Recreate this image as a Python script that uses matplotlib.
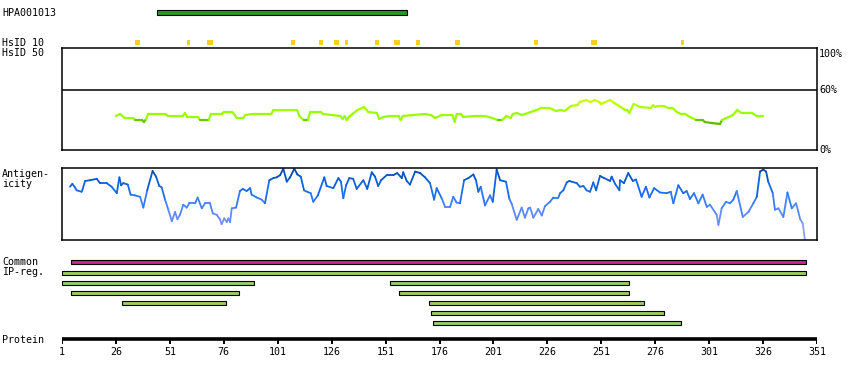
import numpy as np
import matplotlib
matplotlib.use("Agg")
import matplotlib.pyplot as plt
from matplotlib.collections import LineCollection
from matplotlib.colors import LinearSegmentedColormap, Normalize
from matplotlib.patches import Rectangle

plt.rcParams['font.family'] = 'DejaVu Sans Mono'
plt.rcParams['font.size'] = 7.2

W, H = 850, 380
protein_len = 351

# antibody antigen region
hpa_name = "HPA001013"
hpa_start, hpa_end = 45, 161

# HsID 10 hits (start residue, length)
hs10_start = [35, 59, 68, 107, 120, 127, 132, 146, 155, 165, 183, 220, 246, 288]
hs10_len = [2, 1.5, 3, 2, 2, 2.5, 1.5, 2, 2.5, 2, 2.5, 1.5, 3, 1.5]

# HsID 50 identity (%)
hs50_res = [26, 28, 30, 34, 35, 38, 39, 40, 41, 49, 50, 57, 58, 59, 64, 65, 69, 70, 75, 76,
            80, 82, 85, 86, 89, 98, 99, 110, 111, 113, 115, 116, 121, 122, 130, 131, 132, 133, 134,
            138, 141, 143, 147, 148, 150, 153, 157, 158, 159, 169, 172, 174, 177, 182, 183, 184,
            186, 187, 192, 197, 199, 203, 205, 207, 209, 210, 212, 214, 217, 221, 223, 227, 230,
            232, 234, 237, 240, 241, 244, 246, 248, 250, 251, 254, 255, 257, 260, 262, 263, 264,
            266, 269, 274, 275, 276, 277, 280, 282, 284, 286, 288, 290, 292, 295, 298, 299, 302,
            306, 307, 309, 312, 314, 316, 321, 323, 326]
hs50_pct = [34, 36, 32, 32, 30, 30, 28, 31, 36, 36, 34, 34, 37, 33, 33, 30, 30, 36, 36, 38,
            38, 32, 32, 35, 36, 36, 40, 40, 34, 30, 30, 38, 38, 36, 34, 31, 34, 30, 33,
            40, 43, 38, 37, 31, 33, 34, 34, 30, 34, 36, 35, 32, 35, 35, 28, 36,
            36, 33, 34, 34, 33, 30, 30, 34, 32, 36, 37, 35, 37, 40, 42, 42, 39,
            40, 39, 44, 45, 48, 50, 48, 50, 48, 46, 49, 50, 47, 43, 40, 40, 37,
            46, 43, 42, 45, 43, 44, 44, 42, 42, 38, 36, 36, 33, 30, 30, 28, 27,
            26, 30, 32, 35, 40, 37, 37, 34, 34]

# antigenicity profile (relative, 0-100)
ag_res = [4.7, 5.8, 7.0, 7.8, 10.1, 10.6, 11.7, 14.0, 17.1, 18.6, 21.7, 24.0, 26.4, 27.6, 28.4,
          29.4, 31.5, 32.8, 34.8, 37.2, 38.7, 40.5, 43.0, 44.6, 46.1, 47.2, 48.8, 50.3, 51.9,
          53.4, 54.5, 55.7, 57.2, 58.8, 60.0, 62.7, 63.9, 65.8, 67.3, 69.6, 70.9, 72.7, 74.2,
          75.0, 76.2, 77.4, 78.1, 78.9, 79.7, 81.7, 83.5, 84.8, 86.6, 88.2, 88.9, 91.3, 93.6,
          95.1, 97.1, 99.0, 100.5, 102.1, 103.6, 105.2, 106.7, 108.7, 110.1, 111.7, 113.2,
          114.7, 116.3, 117.5, 119.6, 122.6, 123.7, 126.8, 129.1, 130.3, 131.4, 132.7, 134.2,
          136.0, 137.6, 140.7, 142.5, 144.6, 146.1, 147.6, 148.9, 151.5, 154.6, 156.4, 158.5,
          159.2, 160.8, 162.3, 164.7, 167.0, 169.3, 171.6, 173.5, 174.7, 177.0, 178.6, 180.9,
          182.4, 183.9, 185.5, 187.4, 189.4, 191.7, 192.9, 194.0, 195.1, 197.1, 199.4, 200.7,
          202.5, 204.1, 206.8, 208.4, 209.5, 211.8, 214.1, 215.6, 217.2, 218.0, 219.5, 221.8,
          223.4, 224.9, 227.2, 228.8, 231.1, 231.9, 233.4, 235.0, 236.2, 237.3, 239.6, 241.1,
          242.7, 244.2, 245.8, 247.3, 248.6, 250.4, 252.3, 255.1, 255.8, 257.4, 259.4, 259.7,
          261.5, 263.5, 265.6, 267.1, 269.7, 271.7, 273.3, 275.5, 278.2, 281.3, 283.2, 284.4,
          286.7, 289.0, 290.6, 292.1, 294.0, 296.0, 298.0, 299.9, 301.4, 304.5, 305.3, 306.8,
          308.8, 310.7, 312.2, 313.8, 316.6, 319.2, 321.5, 323.1, 324.6, 326.1, 327.4, 328.4,
          330.5, 331.5, 333.1, 335.4, 337.3, 339.3, 341.3, 343.2, 344.4, 345.4]
ag_val = [74, 78, 73, 69, 67, 71, 82, 83, 85, 79, 79, 74, 65, 87, 76,
          79, 77, 63, 62, 60, 45, 69, 96, 88, 75, 73, 56, 42, 26,
          39, 29, 35, 49, 45, 51, 51, 59, 44, 51, 51, 37, 35, 29,
          22, 30, 25, 30, 25, 44, 45, 68, 71, 68, 72, 63, 59, 56,
          51, 83, 86, 87, 90, 99, 81, 87, 99, 91, 88, 69,
          67, 65, 53, 62, 87, 75, 72, 86, 81, 58, 76, 86,
          85, 71, 83, 71, 94, 88, 75, 83, 90, 90, 93, 86,
          94, 82, 77, 95, 93, 87, 79, 56, 72, 58, 46, 46,
          60, 52, 51, 83, 86, 91, 83, 67, 74, 48, 62, 53,
          98, 83, 81, 57, 50, 28, 45, 31, 44, 45, 31, 43,
          34, 47, 53, 59, 59, 65, 69, 80, 82, 81, 79, 74,
          75, 69, 67, 80, 69, 89, 86, 82, 88, 78, 69, 83,
          79, 93, 82, 84, 60, 74, 59, 72, 66, 65, 67, 51,
          76, 65, 68, 57, 65, 51, 63, 46, 49, 35, 21, 44,
          53, 51, 56, 68, 32, 39, 51, 60, 95, 98, 95, 81,
          65, 42, 44, 32, 66, 44, 51, 29, 23, 0]

# common and IP regions (start, end)
common_reg = (5, 346)
ipreg_rows = [
    [(1, 346)],
    [(1, 90), (153, 264)],
    [(5, 83), (157, 264)],
    [(29, 77), (171, 271)],
    [(172, 280)],
    [(173, 288)],
]
ticks = list(range(1, protein_len + 1, 25))

fig = plt.figure(figsize=(W / 100, H / 100), dpi=100)


def box(x0, y0, x1, y1):
    return [x0 / W, 1 - y1 / H, (x1 - x0) / W, (y1 - y0) / H]


# overlay axes: residues across, pixel rows down
ax = fig.add_axes(box(62, 0, 817, 380))
ax.set_xlim(1, protein_len)
ax.set_ylim(H, 0)
ax.axis('off')

ax.add_patch(Rectangle((hpa_start, 10), hpa_end - hpa_start, 5,
                       fc='#229922', ec='black', lw=0.8))
for s, l in zip(hs10_start, hs10_len):
    ax.add_patch(Rectangle((s, 40), l, 4.7, fc='#ffcc22', ec='none'))

ax.add_patch(Rectangle((common_reg[0], 260), common_reg[1] - common_reg[0], 4.3,
                       fc='#cc2299', ec='black', lw=0.8))
for i, row in enumerate(ipreg_rows):
    for s, e in row:
        ax.add_patch(Rectangle((s, 270.5 + 10 * i), e - s, 4.2,
                               fc='#99cc66', ec='black', lw=0.8))

ax.plot([1, protein_len], [339, 339], color='black', lw=2.6, solid_capstyle='butt')
ax.vlines(ticks, 339, 344, color='black', lw=1.4)
for t in ticks:
    ax.text(t, 352, str(t), ha='center', va='center')

# HsID 50 panel
ax_hs = fig.add_axes(box(62, 48, 817, 150))
ax_hs.set_xlim(1, protein_len)
ax_hs.set_ylim(0, 102)
ax_hs.set_xticks([])
ax_hs.set_yticks([])
for sp in ax_hs.spines.values():
    sp.set_linewidth(1.1)
ax_hs.axhline(60, color='black', lw=1.1)
pts = np.column_stack([hs50_res, hs50_pct])
segs = np.stack([pts[:-1], pts[1:]], axis=1)
hs_cmap = LinearSegmentedColormap.from_list(
    'hs', [(0, '#5cb800'), (0.17, '#66cc00'), (0.2, '#99ff00'), (0.5, '#99ff00'), (1, '#ccff00')])
hs_norm = Normalize(26, 50)
mid = (pts[:-1, 1] + pts[1:, 1]) / 2
lc = LineCollection(segs, colors=hs_cmap(hs_norm(mid)), linewidths=1.6, capstyle='round')
ax_hs.add_collection(lc)
for val, lab, va in [(101, '100%', 'top'), (60, '60%', 'center'), (0, '0%', 'center')]:
    ax_hs.text(352, val, lab, ha='left', va=va, clip_on=False)

# antigenicity panel
ax_ag = fig.add_axes(box(62, 168, 817, 240))
ax_ag.set_xlim(1, protein_len)
ax_ag.set_ylim(0, 100)
ax_ag.set_xticks([])
ax_ag.set_yticks([])
for sp in ax_ag.spines.values():
    sp.set_linewidth(1.1)
pts = np.column_stack([ag_res, ag_val])
segs = np.stack([pts[:-1], pts[1:]], axis=1)
ag_cmap = LinearSegmentedColormap.from_list(
    'ag', [(0, '#a0a8ff'), (0.3, '#6a8cff'), (0.5, '#4282ff'), (0.65, '#1f70ee'),
           (0.8, '#0a60d8'), (0.92, '#0050b8'), (1, '#003f90')])
mid = (pts[:-1, 1] + pts[1:, 1]) / 2
lc = LineCollection(segs, colors=ag_cmap(mid / 100), linewidths=1.3, capstyle='round')
ax_ag.add_collection(lc)

# left labels
labels = [(13, hpa_name), (42.5, "HsID 10"), (52.5, "HsID 50"), (174, "Antigen-"),
          (184, "icity"), (262, "Common"), (272, "IP-reg."), (340, "Protein")]
for y, txt in labels:
    fig.text(2 / W, 1 - y / H, txt, ha='left', va='center')

fig.savefig("out.png", dpi=100)
